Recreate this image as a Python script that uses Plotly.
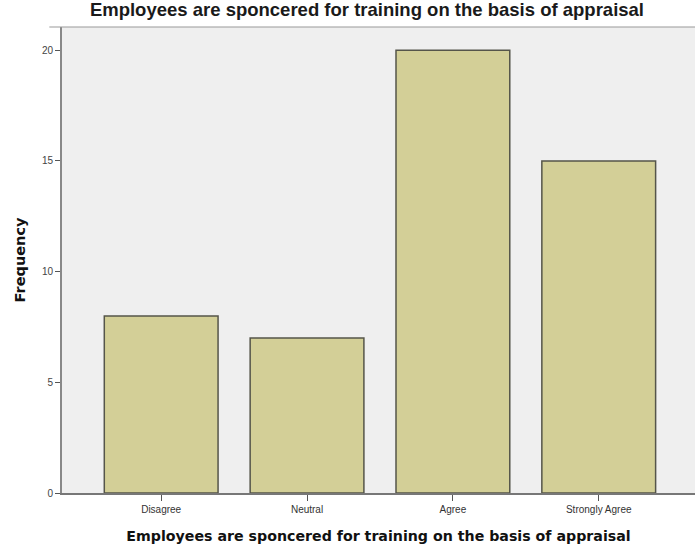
import plotly.graph_objects as go

categories = ["Disagree", "Neutral", "Agree", "Strongly Agree"]
frequency = [8, 7, 20, 15]
y_ticks = [0, 5, 10, 15, 20]

title_text = "Employees are sponcered for training on the basis of appraisal"

fig = go.Figure()
fig.add_trace(go.Bar(
    x=categories,
    y=frequency,
    width=0.78,
    marker=dict(color="#d3cf97", line=dict(color="#55554a", width=1.5)),
    hoverinfo="x+y",
))

fig.update_layout(
    width=695,
    height=548,
    margin=dict(l=62, r=0, t=27, b=55),
    paper_bgcolor="white",
    plot_bgcolor="#efefef",
    showlegend=False,
    title=dict(
        text="<b>" + title_text + "</b>",
        x=0.528, xanchor="center",
        y=0.995, yanchor="top",
        font=dict(family="Liberation Sans, Arial", size=18.5, color="#1a1a1a"),
    ),
    font=dict(family="Liberation Sans, Arial", color="#222222"),
)

fig.update_xaxes(
    range=[-0.68, 3.66],
    showgrid=False,
    showline=True, linecolor="#777777", linewidth=2,
    ticks="outside", ticklen=6, tickcolor="#555555",
    tickfont=dict(size=10, color="#333333"),
    title=dict(text="<b>" + title_text + "</b>",
               font=dict(family="DejaVu Sans", size=14.2, color="#111111"), standoff=17),
    mirror=False,
)
fig.update_yaxes(
    range=[0, 21.05],
    tickvals=y_ticks,
    showgrid=False, zeroline=False,
    showline=True, linecolor="#888888", linewidth=2,
    ticks="outside", ticklen=5, tickcolor="#555555",
    tickfont=dict(size=10, color="#444444"),
    title=dict(text="<b>Frequency</b>",
               font=dict(family="DejaVu Sans", size=14.5, color="#111111"), standoff=13),
)

# thin top border of the plot frame
fig.add_shape(type="line", xref="paper", yref="paper", x0=-0.02, x1=1, y0=1, y1=1,
              line=dict(color="#999999", width=1))

fig.write_html("out.html")
